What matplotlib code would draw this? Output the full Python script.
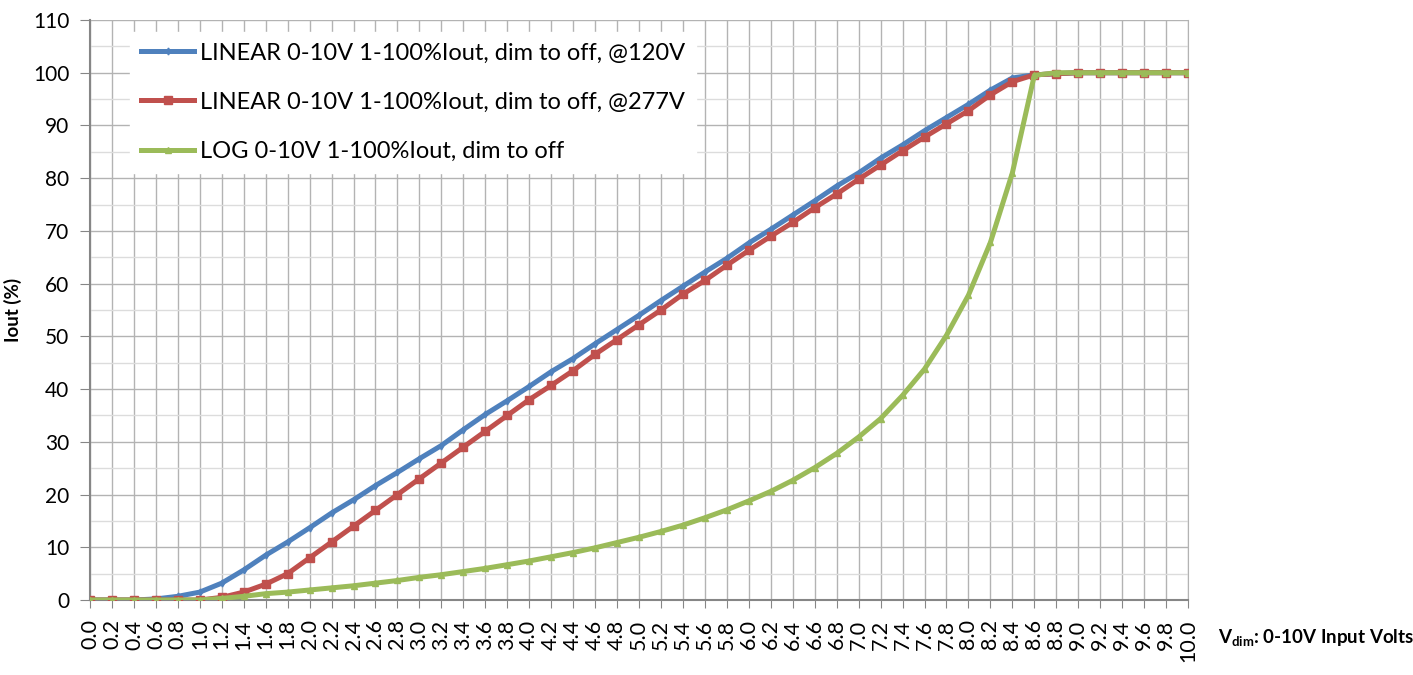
import numpy as np
import matplotlib
matplotlib.use("Agg")
import matplotlib.pyplot as plt
from matplotlib.ticker import MultipleLocator

plt.rcParams['font.family'] = ['Lato', 'DejaVu Sans']
plt.rcParams['mathtext.fontset'] = 'custom'
plt.rcParams['mathtext.bf'] = 'Lato:bold'
plt.rcParams['mathtext.rm'] = 'Lato'

# data
volts = [round(0.2 * i, 1) for i in range(51)]

lin_120 = [0, 0, 0, 0.2, 0.7, 1.5, 3.2, 5.7, 8.5, 11, 13.7, 16.5, 19, 21.7, 24.2,
           26.8, 29.3, 32.3, 35.2, 37.8, 40.5, 43.3, 45.8, 48.6, 51.3, 54, 56.8,
           59.5, 62.2, 64.8, 67.7, 70.3, 73, 75.7, 78.5, 81, 83.8, 86.3, 89, 91.5,
           94, 96.7, 99, 99.6, 99.8, 100, 100, 100, 100, 100, 100]

lin_277 = [0, 0, 0, 0, 0, 0, 0.5, 1.5, 3, 5, 8, 11, 14, 17, 20, 23, 26, 29, 32,
           35, 38, 40.7, 43.5, 46.6, 49.4, 52.2, 55, 58, 60.6, 63.5, 66.3, 69,
           71.6, 74.4, 77, 79.8, 82.5, 85.2, 87.8, 90.3, 92.8, 95.8, 98.3, 99.6,
           99.8, 100, 100, 100, 100, 100, 100]

log_curve = [0, 0, 0, 0, 0, 0, 0.3, 0.7, 1.2, 1.5, 1.9, 2.3, 2.7, 3.2, 3.7, 4.3,
             4.8, 5.4, 6.0, 6.7, 7.4, 8.2, 9.0, 9.9, 10.9, 11.9, 13.0, 14.2, 15.6,
             17.1, 18.8, 20.6, 22.7, 25.1, 27.8, 30.9, 34.4, 38.8, 43.8, 50.2,
             57.8, 67.8, 81, 99.5, 100, 100, 100, 100, 100, 100, 100]

labels = ["LINEAR 0-10V 1-100%Iout, dim to off, @120V",
          "LINEAR 0-10V 1-100%Iout, dim to off, @277V",
          "LOG 0-10V 1-100%Iout, dim to off"]

fig = plt.figure(figsize=(14.13, 6.75), dpi=100)
ax = fig.add_axes([0.0637, 0.1111, 0.7771, 0.8593])

ax.plot(volts, lin_120, color="#4F81BD", lw=3.6, marker="d", ms=3.5, label=labels[0], zorder=3)
ax.plot(volts, lin_277, color="#C0504D", lw=3.6, marker="s", ms=5.5, label=labels[1], zorder=4)
ax.plot(volts, log_curve, color="#9BBB59", lw=3.6, marker="^", ms=4, label=labels[2], zorder=5)

ax.set_xlim(0, 10)
ax.set_ylim(0, 110)
ax.set_xticks(volts)
ax.set_xticklabels([f"{v:.1f}" for v in volts], rotation=90, fontsize=15.5)
ax.yaxis.set_major_locator(MultipleLocator(10))
ax.yaxis.set_minor_locator(MultipleLocator(5))
ax.tick_params(axis='y', which='major', labelsize=15, length=7, color="#868686", direction='out', pad=8)
ax.tick_params(axis='y', which='minor', length=0)
ax.tick_params(axis='x', length=6, color="#868686", direction='out', pad=8)

ax.grid(True, axis='x', color="#b3b3b3", lw=1)
ax.grid(True, axis='y', which='major', color="#b3b3b3", lw=1)
ax.grid(True, axis='y', which='minor', color="#dcdcdc", lw=1)
ax.set_axisbelow(True)

ax.spines['top'].set_visible(False)
ax.spines['right'].set_color("#b3b3b3")
ax.spines['left'].set_color("#868686")
ax.spines['bottom'].set_color("#868686")
ax.spines['left'].set_linewidth(1.5)
ax.spines['bottom'].set_linewidth(1.5)

ax.set_ylabel("Iout (%)", fontsize=13.5, fontweight='bold', labelpad=8)

leg = ax.legend(loc="upper left", bbox_to_anchor=(0.026, 1.0), fontsize=17, frameon=True,
                framealpha=1, edgecolor="white", fancybox=False, handlelength=2.25,
                handletextpad=0.25, labelspacing=1.2, borderpad=0.45)

fig.text(1218 / 1413, 1 - 638 / 675, r"$\mathbf{V_{dim}}$: 0-10V Input Volts",
         fontsize=13.5, fontweight='bold', va='center', ha='left')

fig.savefig("out.png", dpi=100)
